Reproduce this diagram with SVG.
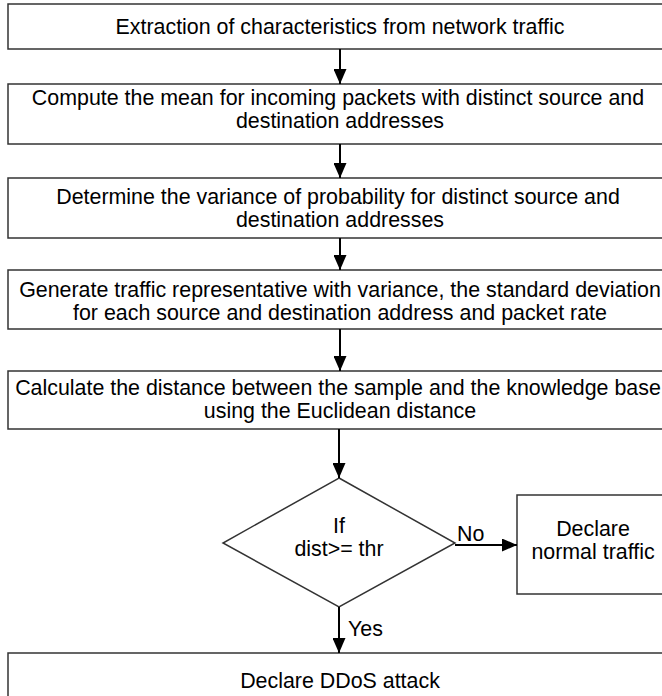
<svg xmlns="http://www.w3.org/2000/svg" width="662" height="696" viewBox="0 0 662 696">
<defs>
<style>
.box{fill:#fff;stroke:#333;stroke-width:1.5}
.t{font-family:"Liberation Sans",Arial,sans-serif;font-size:21.4px;fill:#000;text-anchor:middle}
.lbl{font-family:"Liberation Sans",Arial,sans-serif;font-size:21.4px;fill:#000}
.c{stroke:#000;stroke-width:2;fill:none;marker-end:url(#ah)}
</style>
<marker id="ah" markerWidth="15" markerHeight="13" refX="15" refY="6.5" orient="auto" markerUnits="userSpaceOnUse">
<path d="M0,0 L15,6.5 L0,13 Z" fill="#000"/>
</marker>
</defs>
<rect width="662" height="696" fill="#fff"/>
<g id="n1"><rect class="box" x="8" y="4" width="662" height="45"/><text class="t" x="340" y="34">Extraction of characteristics from network traffic</text></g>
<g id="n2"><rect class="box" x="8" y="84" width="662" height="60"/><text class="t" x="338" y="105">Compute the mean for incoming packets with distinct source and</text><text class="t" x="340" y="128">destination addresses</text></g>
<g id="n3"><rect class="box" x="8" y="178" width="662" height="60"/><text class="t" x="338" y="204">Determine the variance of probability for distinct source and</text><text class="t" x="340" y="227">destination addresses</text></g>
<g id="n4"><rect class="box" x="8" y="270" width="662" height="59"/><text class="t" x="340" y="297">Generate traffic representative with variance, the standard deviation</text><text class="t" x="340" y="320">for each source and destination address and packet rate</text></g>
<g id="n5"><rect class="box" x="8" y="371" width="662" height="58"/><text class="t" x="338" y="395">Calculate the distance between the sample and the knowledge base</text><text class="t" x="340" y="418">using the Euclidean distance</text></g>
<g id="n6"><polygon class="box" points="339,478 455,543 339,607 223,543"/><text class="t" x="339" y="533">If</text><text class="t" x="339" y="556">dist&gt;= thr</text></g>
<g id="n7"><rect class="box" x="517" y="495" width="152" height="99"/><text class="t" x="593" y="536">Declare</text><text class="t" x="593" y="559">normal traffic</text></g>
<g id="n8"><rect class="box" x="8" y="653" width="662" height="60"/><text class="t" x="340" y="688">Declare DDoS attack</text></g>
<g id="connectors">
<line class="c" x1="340" y1="49" x2="340" y2="84"/>
<line class="c" x1="340" y1="144" x2="340" y2="178"/>
<line class="c" x1="340" y1="238" x2="340" y2="270"/>
<line class="c" x1="340" y1="329" x2="340" y2="371"/>
<line class="c" x1="339" y1="429" x2="339" y2="478"/>
<line class="c" x1="455" y1="545" x2="517" y2="545"/>
<line class="c" x1="339" y1="607" x2="339" y2="653"/>
<text class="lbl" x="457" y="541">No</text>
<text class="lbl" x="348" y="636">Yes</text>
</g>
</svg>
